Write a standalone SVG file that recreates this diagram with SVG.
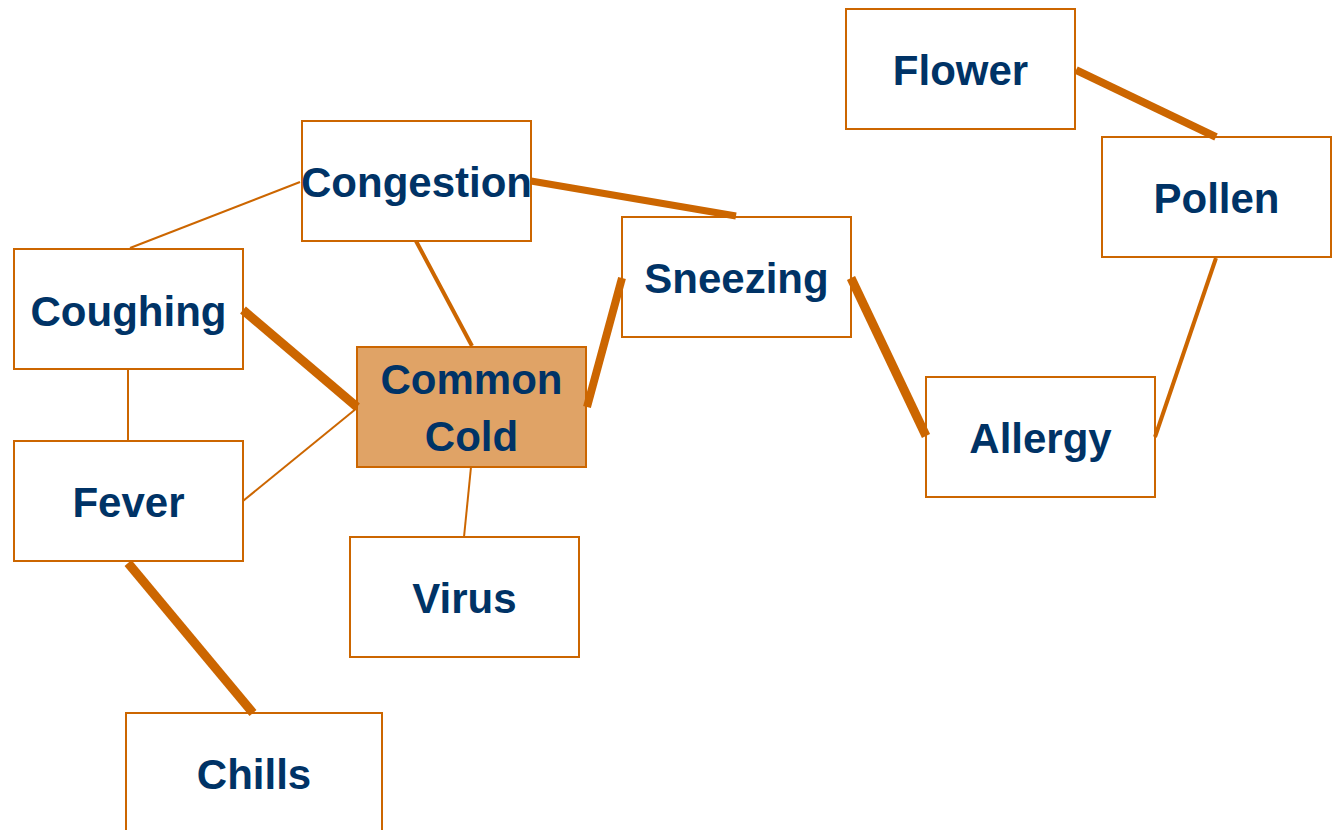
<svg xmlns="http://www.w3.org/2000/svg" width="1334" height="830" viewBox="0 0 1334 830">
<style>
.box{fill:#FFFFFF;stroke:#CC6600;stroke-width:2}
.hub{fill:#E0A366;stroke:#CC6600;stroke-width:2}
.lbl{font-family:"Liberation Sans",Arial,sans-serif;font-weight:bold;font-size:42px;fill:#003366;text-anchor:middle}
.c{stroke:#CC6600;stroke-linecap:butt;fill:none}
</style>
<rect width="1334" height="830" fill="#FFFFFF"/>
<g id="flower"><rect class="box" x="846" y="9" width="229" height="120"/><text class="lbl" x="960.5" y="85">Flower</text></g>
<g id="pollen"><rect class="box" x="1102" y="137" width="229" height="120"/><text class="lbl" x="1216.5" y="213">Pollen</text></g>
<g id="congestion"><rect class="box" x="302" y="121" width="229" height="120"/><text class="lbl" x="416.5" y="197">Congestion</text></g>
<g id="sneezing"><rect class="box" x="622" y="217" width="229" height="120"/><text class="lbl" x="736.5" y="293">Sneezing</text></g>
<g id="coughing"><rect class="box" x="14" y="249" width="229" height="120"/><text class="lbl" x="128.5" y="326">Coughing</text></g>
<g id="common-cold"><rect class="hub" x="357" y="347" width="229" height="120"/><text class="lbl" x="471.5" y="394">Common</text><text class="lbl" x="471.5" y="451">Cold</text></g>
<g id="allergy"><rect class="box" x="926" y="377" width="229" height="120"/><text class="lbl" x="1040.5" y="453">Allergy</text></g>
<g id="fever"><rect class="box" x="14" y="441" width="229" height="120"/><text class="lbl" x="128.5" y="517">Fever</text></g>
<g id="virus"><rect class="box" x="350" y="537" width="229" height="120"/><text class="lbl" x="464.5" y="613">Virus</text></g>
<g id="chills"><rect class="box" x="126" y="713" width="256" height="130"/><text class="lbl" x="254" y="789">Chills</text></g>
<g id="connectors">
<line class="c" x1="300" y1="182" x2="130" y2="248" stroke-width="2"/>
<line class="c" x1="531" y1="181" x2="736" y2="216" stroke-width="7"/>
<line class="c" x1="416" y1="241" x2="472" y2="346" stroke-width="4"/>
<line class="c" x1="243" y1="310" x2="357" y2="407" stroke-width="9"/>
<line class="c" x1="128" y1="369" x2="128" y2="441" stroke-width="2"/>
<line class="c" x1="243" y1="501" x2="357" y2="408" stroke-width="2"/>
<line class="c" x1="471" y1="467" x2="464" y2="537" stroke-width="2"/>
<line class="c" x1="587" y1="407" x2="622" y2="278" stroke-width="8"/>
<line class="c" x1="128" y1="563" x2="253" y2="713" stroke-width="9"/>
<line class="c" x1="851" y1="278" x2="926" y2="436" stroke-width="9"/>
<line class="c" x1="1076" y1="70" x2="1216" y2="137" stroke-width="8"/>
<line class="c" x1="1216" y1="258" x2="1155" y2="437" stroke-width="4"/>
</g>
</svg>
